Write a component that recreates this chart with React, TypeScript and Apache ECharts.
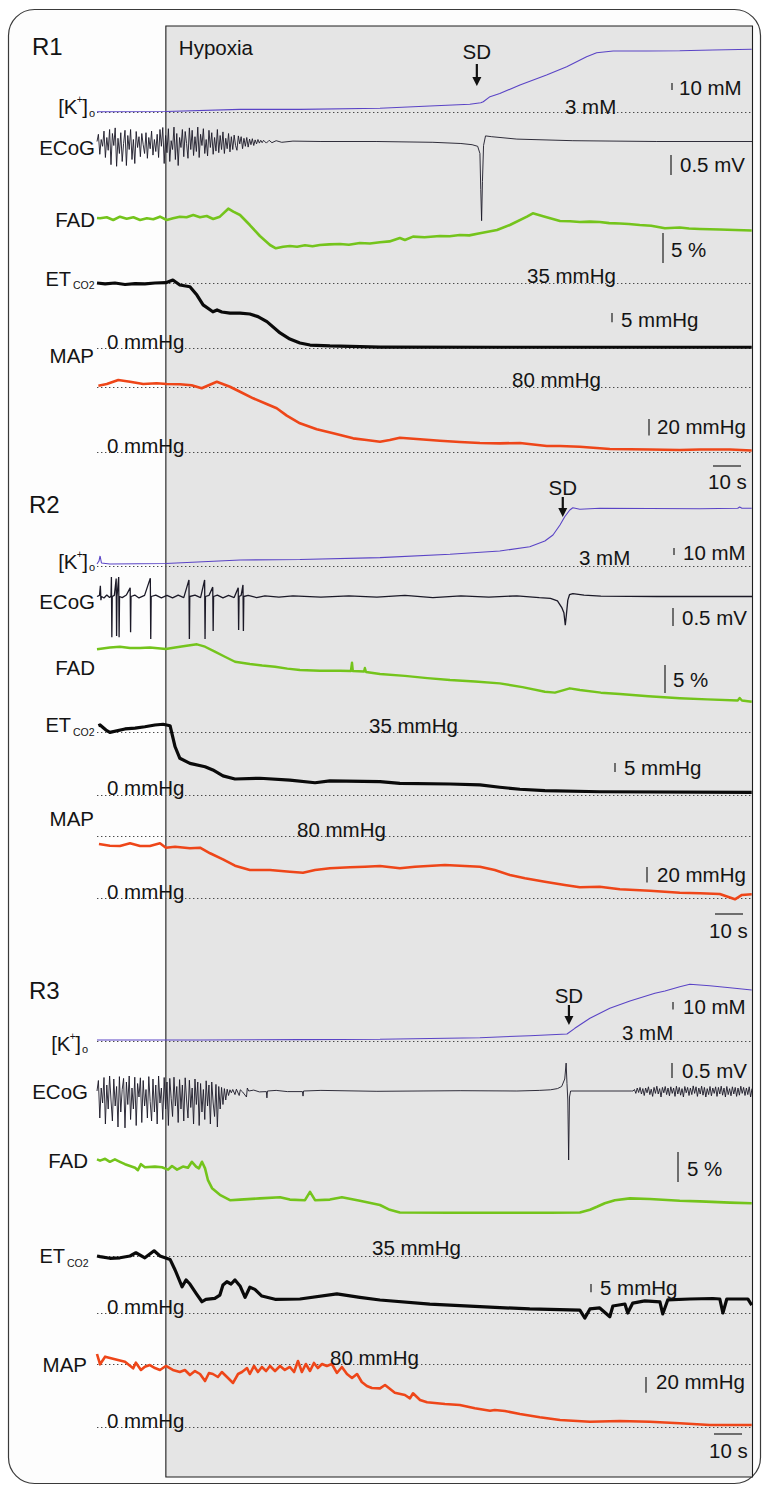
import React, { useEffect, useRef } from "react";
import * as echarts from "echarts";

// ---------------- data (time in s from trace start, values in trace units) ----------------
const T_MAX = 234;
const HYPOXIA_ONSET = 24.6;
const SD_MARK = [135.7, 166.4, 168.6];
const TIME_BAR_S = 10;

// ---- R1 ----
const K1 = [[0,4.1],[24.6,4.4],[51.1,7.4],[72.5,7.4],[101.1,9],[118.9,12.3],[133.2,14.7],[137.1,17],[138,18.4],[140.4,25.6],[143.9,30.1],[151.1,42.3],[160.6,56.6],[167.8,68.4],[174.9,82.7],[178.5,88.4],[184.4,90.9],[196.3,90.9],[208.2,91.3],[220,92.3],[233.9,93.3]];
const ECOG1_BURST = [0,0.18,-0.32,0.05,-0.12,0.26,-0.4,0.1,-0.22,0.3,
  -0.58,0.2,-0.1,0.34,-0.62,0.08,-0.3,0.22,-0.5,-0.05,
  0.28,-0.6,0.15,-0.2,0.3,-0.45,0.05,-0.55,0.25,-0.15,
  0.12,-0.38,0.2,-0.08,-0.3,0.22,-0.42,0.1,-0.18,0.26,
  -0.34,0.05,-0.25,0.18,-0.4,0.3,-0.12,0.35,-0.55,0.15,
  -0.28,0.32,-0.5,0.02,-0.2,0.36,-0.45,0.2,-0.6,0.1,
  -0.15,0.3,-0.38,0.25,-0.05,-0.42,0.34,-0.2,0.28,-0.35,
  0.12,-0.25,0.36,-0.4,0.18,-0.1,0.32,-0.3,0.05,-0.36,
  0.28,-0.15,0.22,-0.32,0.1,-0.24,0.3,-0.28,0.15,-0.2,
  0.24,-0.3,0.08,-0.18,0.2,-0.26,0.12,-0.2,0.16,-0.1,
  -0.22,0.14,-0.06,0.12,-0.18,0.08,-0.12,0.1,-0.14,0.06,
  -0.08,0.07,-0.1,0.04,-0.06,0.05,-0.04,0.03,-0.03];
const ECOG1_REST = [[59.5,0.03],[60.5,-0.04],[61.5,0.03],[62.5,-0.03],[64,0.02],[66,-0.02],[70,0.01],[80,0],[100,0],[120,-0.02],[130,-0.05],[134,-0.08],[136,-0.12],[136.8,-0.3],[137.1,-1.2],[137.4,-1.98],[137.7,-1.0],[138.1,-0.1],[138.8,0.14],[141,0.12],[150,0.06],[170,0.02],[200,0],[234,0]];
const FAD1 = [[0,0],[1.1,-0.05],[3.5,0.12],[5.8,-0.33],[8.2,0.22],[10.6,-0.12],[13,0.12],[15.4,-0.33],[17.8,-0.05],[20.1,-0.22],[22.5,0.22],[24.9,-0.33],[27.2,-0.05],[29.6,0.22],[32,0.12],[34.4,0.5],[36.8,0.12],[39.2,0.33],[41.5,-0.17],[43.9,0.22],[46.9,1.55],[48.7,1.05],[51.1,0.5],[54.6,-1.17],[58.2,-3],[61.8,-4.5],[63.9,-5.05],[66.5,-4.8],[68.9,-4.67],[71.5,-4.8],[74.3,-4.55],[77,-4.7],[79.6,-4.5],[83,-4.4],[86.8,-4.33],[90,-4.45],[93.9,-4.17],[97.5,-4.25],[101.1,-4.05],[104.5,-3.9],[108.2,-3.33],[110,-3.67],[112.9,-3.1],[117,-3.2],[122.5,-3],[126,-3.05],[129.6,-2.83],[133,-2.9],[136.8,-2.55],[142.9,-2],[147.5,-1.17],[153.6,0.22],[155.7,0.78],[160,0.22],[165.4,-0.5],[169,-0.55],[172.5,-0.67],[176,-0.6],[179.6,-0.67],[183,-0.85],[186.8,-0.92],[190,-1.0],[193.9,-1.17],[198,-1.3],[202.9,-1.72],[208.2,-1.58],[211.5,-1.75],[215.4,-1.83],[222.5,-1.92],[228,-2.0],[233.9,-2.08]];
const CO2_1 = [[0,35],[2.9,34.5],[6.4,35],[10,34.2],[13.6,34.7],[17.1,34.5],[20.7,35],[24.6,35.2],[27.1,36.6],[29.6,33.9],[33.2,33],[35.7,28.5],[37.9,23.2],[41.4,19.5],[42.9,20.5],[44.6,19.4],[47.5,18.8],[51.1,18.8],[54.6,18.3],[57.5,16.9],[60.7,14.2],[65.4,8.1],[68.9,4.8],[72.5,2.7],[76.1,1.6],[83.2,1.1],[101.1,0.5],[143.9,0.4],[233.9,0.4]];
const MAP1 = [[0.5,81.6],[3.5,83.6],[7.6,88.5],[11.8,86.4],[16.5,83.6],[21.3,84.5],[24.9,83.6],[29.6,83.3],[33.8,82.1],[37.4,78.4],[42.8,86.4],[47.5,80.3],[51.1,74.2],[55.8,66.2],[60.6,59.2],[64.2,54],[67.8,45],[72.5,35.7],[78.5,28.3],[84.4,23.4],[91.5,17.3],[96.3,15.3],[101.1,13.2],[104.6,15.3],[108.2,18.1],[115.4,16.1],[122.5,14.4],[129.6,12.8],[136.8,11.6],[143.9,11.2],[151.1,11.6],[160.7,7.9],[165.4,7.9],[172.5,7.1],[183.2,4.3],[197.5,3.7],[208.2,3.1],[215.4,3.7],[226.1,3.7],[233.9,2.4]];

// ---- R2 ----
const K2 = [[0,5.9],[0.7,10.1],[1.1,17.3],[1.6,7.3],[4.6,5.9],[24.6,6.6],[51.1,11.6],[72.5,12.3],[101.1,14.9],[126.1,19.7],[143.9,24.4],[154.6,30.6],[160,38.7],[162.9,47.3],[165.4,61.6],[167.1,73.4],[168.9,83],[170,86.3],[172.5,84],[179.6,85.4],[197.5,85.1],[215.4,84.7],[228.9,85.4],[229.6,87.3],[230.4,85.4],[233.9,85.4]];
const ECOG2 = [[0,0],[0.9,0.03],[1.2,0.3],[1.4,-0.1],[1.6,0],[2.5,-0.04],[3.5,0.04],[4.5,-0.03],[5,0.02],[5.15,0.54],[5.3,-1.13],[5.45,0],[6.2,0.03],[6.85,0.5],[7,-1.1],[7.15,0],[7.75,0.54],[7.9,-1.13],[8.05,0],[9,-0.03],[10.5,0.04],[11.85,0.24],[12,-0.99],[12.15,0],[13.5,0.04],[15,-0.04],[17,0.03],[19.05,0.51],[19.2,-1.18],[19.35,0],[21,0.04],[23,-0.04],[25,0.03],[27,-0.04],[29,0.04],[31,-0.03],[32.85,0.46],[33,-1.18],[33.15,0],[35,0.04],[37,-0.03],[38.45,0.46],[38.6,-1.18],[38.75,0],[40,0.03],[41.35,0.26],[41.5,-0.96],[41.65,0],[43,0.04],[45,-0.04],[47,0.03],[49,-0.03],[50.45,0.24],[50.6,-0.93],[50.75,0],[51.5,0.03],[52.15,0.32],[52.3,-0.96],[52.45,0],[54,0.03],[57,-0.03],[60,0.02],[65,-0.02],[70,0.02],[80,-0.02],[90,0.02],[100,-0.02],[110,0.03],[120,-0.03],[130,0.02],[140,-0.02],[150,0.02],[158,-0.03],[162,-0.05],[164.5,-0.12],[166,-0.3],[166.8,-0.45],[167.3,-0.8],[167.7,-0.5],[168.2,-0.1],[168.8,0.05],[170,0.08],[174,0.04],[180,0.01],[200,0],[234,0]];
const FAD2 = [[0,-0.05],[4.6,0.27],[8.2,0.41],[11.8,0.18],[15.4,0.18],[18.9,0.27],[24.6,0],[27.9,0.27],[31.4,0.54],[35.7,0.84],[38.6,0.41],[42.1,-0.48],[45.7,-1.38],[49.3,-2.27],[54.6,-2.68],[59,-2.95],[63.6,-3.16],[68,-3.5],[72.5,-3.75],[79.6,-3.88],[86.8,-3.88],[90.7,-3.93],[91.1,-2.45],[91.4,-3.93],[95.4,-4.02],[95.7,-3.39],[96.1,-4.11],[101.1,-4.46],[110,-4.8],[118,-5.2],[126.1,-5.54],[135,-5.8],[143.9,-6.13],[152,-6.8],[160,-7.63],[163.6,-7.8],[168.9,-7.02],[172.5,-7.32],[180,-7.8],[186.8,-8.04],[197,-8.45],[208.2,-8.8],[218,-9.0],[228.9,-9.2],[229.6,-8.75],[230.4,-9.2],[233.9,-9.41]];
const CO2_2 = [[0.5,38.5],[1.1,38.9],[3.2,36.1],[4.6,34.8],[10,36.7],[13.6,37.2],[17.1,37.9],[20.7,38.9],[23.6,39.3],[26.1,38.5],[27.9,26.8],[29.6,20.4],[33.2,17.6],[38.6,15.7],[41.4,13.9],[45,10.6],[49.3,8.9],[58.2,9.3],[68.9,8.3],[77.9,6.8],[83.2,7.8],[101.1,7.4],[108.2,6.5],[126.1,6.1],[136.8,5.6],[143.9,4.3],[151.1,3.2],[160,2.4],[179.6,1.8],[233.9,1.5]];
const MAP2 = [[0.7,69.7],[4.6,67.5],[8.2,67.1],[11.8,70.6],[15.4,67.1],[18.9,67.1],[22.5,70.6],[24.6,64.9],[27.9,66.2],[33.2,64.1],[36.8,64.9],[40.4,57.7],[45,49.9],[49.3,41.7],[54.6,36.1],[61.8,36.1],[68.9,33.9],[73.6,32.6],[77.9,36.1],[83.2,38.3],[90.4,39.6],[95.7,40.4],[101.1,41.3],[108.2,38.3],[113.6,40.4],[124.3,42.6],[136.8,40.4],[142.1,36.1],[147.5,29.7],[152.9,25.4],[160,21],[167.1,16.8],[172.5,13.8],[179.6,14.6],[186.8,11.2],[197.5,9.4],[208.2,6.8],[215.4,6.1],[222.5,5.2],[227.9,-1.7],[230.4,3.9],[233.9,4.8]];

// ---- R3 ----
const K3 = [[0,4.3],[36.8,4.3],[72.5,4.9],[101.1,5.3],[136.8,7.4],[154.6,10.1],[167.9,12.3],[170.7,19.9],[176.1,33.3],[183.2,46.6],[190.4,56.3],[199.3,66.6],[202.9,69.7],[208.2,75.4],[211.8,78.6],[218.9,76.7],[226.1,74.1],[233.9,71]];
const ECOG3_BURST = [0,0.35,-0.9,0.1,-0.4,0.45,-1.1,0.2,-0.6,0.5,
  -0.3,-1.0,0.4,-0.5,0.15,-1.2,0.48,-0.7,0.05,0.42,
  -1.23,0.3,-0.45,0.5,-0.95,0.1,-0.6,0.46,-1.15,0.25,
  -0.2,0.44,-1.05,0.35,-0.5,0.05,-0.9,0.48,-0.35,-1.0,
  0.4,-0.7,0.2,-1.1,0.5,-0.4,0.1,-0.95,0.45,-0.6,
  0.3,-1.15,0.42,-0.25,-0.85,0.46,-0.5,0.15,-1.05,0.38,
  -0.6,0.2,-1.0,0.44,-0.3,-0.9,0.36,-0.55,0.1,-1.1,
  0.4,-0.45,0.3,-1.15,0.25,-0.7,0.05,-0.95,0.34,-0.5,
  0.2,-1.1,0.3,-0.4,-0.85,0.22,-1.2,0.15,-0.6,0.12,
  -0.45,0.08,-0.3,0.06,-0.15,0.04,-0.06];
const ECOG3_MID = [[48.5,0.05],[49.3,-0.12],[49.8,0.06],[50.8,-0.15],[51.2,0.04],[52,-0.03],[53.4,-0.2],[53.7,0.1],[54.2,0],[56,0.03],[58,-0.03],[60.5,-0.02],[60.7,-0.23],[60.9,0],[64,0.02],[68,-0.02],[73.4,-0.02],[73.6,-0.17],[73.8,0],[80,0.02],[100,-0.01],[130,0.01],[150,0],[158,0.02],[162,0.04],[164.5,0.08],[166,0.15],[167.1,0.4],[167.6,0.93],[167.9,0.25],[168.2,-0.3],[168.5,-2.3],[168.8,-0.2],[169.2,0],[191,0]];
const ECOG3_LATE = [0,0.05,-0.08,0.1,-0.05,0.12,-0.1,0.08,-0.15,0.1,
  -0.06,0.14,-0.12,0.06,-0.18,0.12,-0.08,0.16,-0.1,0.08,
  -0.2,0.12,-0.06,0.15,-0.12,0.1,-0.16,0.14,-0.08,0.1,
  -0.18,0.16,-0.1,0.12,-0.14,0.08,-0.2,0.15,-0.06,0.12,
  -0.15,0.1,-0.12,0.17,-0.08,0.14,-0.18,0.1,-0.1,0.16,
  -0.14,0.12,-0.2,0.08,-0.12,0.15,-0.16,0.1,-0.08,0.14,
  -0.18,0.12,-0.1,0.16,-0.14,0.1,-0.2,0.15,-0.12,0.08,
  -0.16,0.14,-0.1,0.12,-0.18,0.1,-0.14,0.16,-0.08,0.12,
  -0.15,0.1,-0.12,0.14,-0.2,0.08];
const FAD3 = [[0,0.1],[1.1,-0.1],[2.9,0.2],[4.6,-0.3],[6.4,0.1],[8.2,-0.3],[10,-0.7],[11.8,-1],[13.6,-1.3],[14.6,-1.7],[15.7,-0.7],[17.1,-1.2],[20.7,-1.1],[23.2,-1.2],[25.4,-1.6],[26.8,-1],[28.6,-1.6],[30.7,-1.1],[32.5,-1.3],[33.9,-0.3],[35.4,-1.1],[36.4,-1.4],[37.5,-0.3],[38.6,-1.4],[39.6,-3.3],[41.1,-4.7],[43.9,-5.8],[47.5,-6.7],[51.1,-6.6],[58.2,-6.4],[65.4,-6.2],[68.9,-6.6],[74.3,-6.7],[76.1,-5.3],[77.9,-6.7],[83.2,-6.6],[87.5,-6.2],[93.9,-6.8],[101.1,-7.5],[104.6,-8.3],[108.2,-8.75],[126.1,-8.8],[143.9,-8.8],[161.8,-8.8],[172.5,-8.75],[176.1,-8.3],[178.6,-7.8],[181.4,-7.2],[185,-6.7],[190.4,-6.4],[197.5,-6.5],[208.2,-6.8],[215.4,-6.9],[226.1,-7.1],[233.9,-7.2]];
const CO2_3 = [[0,35],[1.1,34.6],[4.6,33.6],[8.2,33.9],[11.8,35],[13.9,37],[17.1,33.9],[20.4,38.2],[22.5,35],[26.1,32.9],[27.9,26.4],[30.4,16.1],[31.8,20.3],[33.2,17.8],[35.4,12.1],[37.5,6.9],[38.9,8.4],[42.1,9],[43.9,11],[45,17.2],[46.4,19.2],[47.9,17.8],[49.3,20.3],[51.1,16.6],[52.9,9.6],[54.6,15.8],[56.4,14.5],[58.9,10.4],[63.6,8.4],[72.5,8.6],[85.7,11.7],[93.9,9.6],[101.1,8],[118.9,5.5],[136.8,3.9],[154.6,2.5],[172.5,1.8],[174.3,-3.1],[176.1,2.5],[179.6,3.1],[183.2,-2.3],[184.3,4.3],[188.6,5.5],[189.6,0],[191.4,6.1],[195.7,7.4],[201.1,6.8],[202.1,-0.6],[203.9,8],[211.8,8.6],[220,8.9],[222.5,8.6],[223.6,0],[225,8.6],[232.5,8.6],[233.9,4.9]];
const MAP3 = [[0,92.7],[1.1,79.6],[2.9,89.3],[6.4,86],[10,82.9],[12.9,74.5],[13.9,81.7],[15.7,72.4],[17.1,76.6],[18.9,78.7],[20.7,74.9],[22.5,72.4],[24.6,77.5],[27.1,72.4],[29.6,69.8],[31.4,72.4],[33.2,66],[35,71.1],[36.8,67.3],[38.6,58.4],[40,68.6],[41.4,67.3],[43.2,63.5],[44.6,69.8],[46.8,62.2],[48.6,55.9],[50.4,67.3],[51.8,69.8],[53.6,74.9],[54.6,67.3],[56.1,77.5],[57.5,69.8],[58.9,76.2],[60.4,71.1],[61.8,77.5],[63.6,71.1],[65.4,77.5],[67.1,72.4],[68.9,76.2],[70.4,69.8],[71.8,83.8],[73.2,69.8],[74.6,80],[76.1,71.1],[77.5,81.3],[78.9,74.9],[80.4,80],[82.1,77.5],[83.9,80],[85.7,68.6],[87.5,76.2],[89.3,67.3],[91.1,62.2],[92.9,67.3],[94.6,57.1],[96.4,52.1],[98.2,49.5],[101.1,49.1],[102.9,53.3],[106.4,43.6],[110,40.6],[111.8,36.4],[112.9,42.8],[115.4,34.3],[117.9,31.4],[124.3,29.2],[129.6,27.9],[135,23.7],[140.4,20.7],[142.1,21.6],[145.7,20.3],[151.1,16.5],[158.2,12.3],[165.4,8.9],[176.1,6.7],[186.8,7.6],[197.5,6.7],[208.2,4.7],[218.9,2.5],[233.9,2.5]];

// ---------------- styling / layout ----------------
const FONT = "'Liberation Sans', Arial, Helvetica, sans-serif";
const INK = "#141414";
const C_K = "#5a44c6";
const C_E = "#1b1927";
const C_F = "#74c41c";
const C_C = "#0a0a0a";
const C_M = "#ee4619";
const PLOT_LEFT = 97;
const PLOT_RIGHT_PX = 752;

const ecog1 = [...ECOG1_BURST.map((v, i) => [i * 0.5, v]), ...ECOG1_REST];
const ecog3 = [...ECOG3_BURST.map((v, i) => [i * 0.5, v]), ...ECOG3_MID, ...ECOG3_LATE.map((v, i) => [191.5 + i * 0.5, v])];

// cal: [pixel y of base value, base value, px per unit]
const TRACES = [
  { data: K1, cal: [112.5, 3, 0.7], color: C_K, width: 1.1, refs: [3] },
  { data: ecog1, cal: [141.5, 0, 40], color: C_E, width: 0.9, refs: [] },
  { data: FAD1, cal: [218, 0, 6], color: C_F, width: 2.6, refs: [] },
  { data: CO2_1, cal: [348, 0, 65 / 35], color: C_C, width: 3.2, refs: [35, 0] },
  { data: MAP1, cal: [452.5, 0, 65.5 / 80], color: C_M, width: 2.6, refs: [80, 0] },
  { data: K2, cal: [566, 3, 0.7], color: C_K, width: 1.1, refs: [3] },
  { data: ECOG2, cal: [596.5, 0, 36], color: C_E, width: 1.3, refs: [] },
  { data: FAD2, cal: [649, 0, 5.6], color: C_F, width: 2.4, refs: [] },
  { data: CO2_2, cal: [795, 0, 1.8], color: C_C, width: 3.2, refs: [35, 0] },
  { data: MAP2, cal: [898, 0, 0.775], color: C_M, width: 2.6, refs: [80, 0] },
  { data: K3, cal: [1041, 3, 0.75], color: C_K, width: 1.1, refs: [3] },
  { data: ecog3, cal: [1091, 0, 30], color: C_E, width: 0.9, refs: [] },
  { data: FAD3, cal: [1160, 0, 6], color: C_F, width: 2.6, refs: [] },
  { data: CO2_3, cal: [1313, 0, 57 / 35], color: C_C, width: 3.2, refs: [35, 0] },
  { data: MAP3, cal: [1427, 0, 63 / 80], color: C_M, width: 2.6, refs: [80, 0] },
];

const SCALES = [
  { tr: 0, v: 10, label: "10 mM", x: 672, top: 83, tx: 679, ty: 87 },
  { tr: 1, v: 0.5, label: "0.5 mV", x: 671, top: 155, tx: 680, ty: 164 },
  { tr: 2, v: 5, label: "5 %", x: 663, top: 233, tx: 671, ty: 249 },
  { tr: 3, v: 5, label: "5 mmHg", x: 612, top: 313, tx: 621, ty: 319 },
  { tr: 4, v: 20, label: "20 mmHg", x: 649, top: 419, tx: 657, ty: 426 },
  { tr: 5, v: 10, label: "10 mM", x: 674, top: 548, tx: 683, ty: 552 },
  { tr: 6, v: 0.5, label: "0.5 mV", x: 673, top: 608, tx: 682, ty: 617 },
  { tr: 7, v: 5, label: "5 %", x: 665, top: 665, tx: 673, ty: 679 },
  { tr: 8, v: 5, label: "5 mmHg", x: 615, top: 763, tx: 624, ty: 767 },
  { tr: 9, v: 20, label: "20 mmHg", x: 647, top: 867, tx: 657, ty: 874 },
  { tr: 10, v: 10, label: "10 mM", x: 673, top: 1002, tx: 683, ty: 1006 },
  { tr: 11, v: 0.5, label: "0.5 mV", x: 672, top: 1063, tx: 682, ty: 1070 },
  { tr: 12, v: 5, label: "5 %", x: 678, top: 1152, tx: 687, ty: 1168 },
  { tr: 13, v: 5, label: "5 mmHg", x: 591, top: 1284, tx: 600, ty: 1287 },
  { tr: 14, v: 20, label: "20 mmHg", x: 646, top: 1377, tx: 656, ty: 1381 },
];

const PANELS = [
  { name: "R1", nx: 32, ny: 46, right: 95, kY: 106.5, ecogY: 147, fadY: 219, etRight: 71, etY: 278.5, mapY: 355.5,
    mm3: [565, 106.5], mm35: [527, 275], co2Zero: [107, 341], mm80: [512, 379], mapZero: [107, 445],
    sd: { ty: 51.5, top: 64, tip: 86 }, tb: { x: 713, y: 466, tx: 708, ty: 481 }, kTrace: 0 },
  { name: "R2", nx: 29, ny: 504, right: 95, kY: 561, ecogY: 601, fadY: 667, etRight: 71, etY: 725, mapY: 818,
    mm3: [579, 557], mm35: [369, 725], co2Zero: [107, 787], mm80: [297, 829], mapZero: [107, 891],
    sd: { ty: 487, top: 497, tip: 517 }, tb: { x: 715, y: 914, tx: 709, ty: 930 }, kTrace: 5 },
  { name: "R3", nx: 29, ny: 990, right: 88, kY: 1043, ecogY: 1091, fadY: 1160, etRight: 65, etY: 1256, mapY: 1364,
    mm3: [622, 1032], mm35: [372, 1247], co2Zero: [107, 1306], mm80: [330, 1357], mapZero: [107, 1420],
    sd: { ty: 995, top: 1005, tip: 1025 }, tb: { x: 714, y: 1434, tx: 709, ty: 1450 }, kTrace: 10 },
];

function buildOption() {
  const grid: any[] = [];
  const xAxis: any[] = [];
  const yAxis: any[] = [];
  const series: any[] = [];
  TRACES.forEach((tr, i) => {
    const [px, base, ppu] = tr.cal;
    grid.push({ left: PLOT_LEFT, width: PLOT_RIGHT_PX - PLOT_LEFT, top: px - 100, height: 100, show: false });
    xAxis.push({ type: "value", gridIndex: i, min: 0, max: T_MAX, show: false });
    yAxis.push({ type: "value", gridIndex: i, min: base, max: base + 100 / ppu, show: false });
    series.push({
      type: "line",
      xAxisIndex: i,
      yAxisIndex: i,
      data: tr.data,
      showSymbol: false,
      symbol: "none",
      clip: false,
      silent: true,
      z: 5,
      lineStyle: { color: tr.color, width: tr.width, join: tr.width > 2 ? "round" : "bevel" },
      markLine: tr.refs.length
        ? {
            silent: true,
            symbol: ["none", "none"],
            label: { show: false },
            z: 3,
            lineStyle: { type: [1.4, 2.6], color: "#4a4a4a", width: 1 },
            emphasis: { disabled: true },
            data: tr.refs.map((v) => ({ yAxis: v })),
          }
        : undefined,
    });
  });
  return { animation: false, backgroundColor: "transparent", grid, xAxis, yAxis, series };
}

function txt(str: string, x: number, y: number, size = 20.5, align = "left") {
  return {
    type: "text", x, y, z: 60, silent: true,
    style: { text: str, fill: INK, fontSize: size, fontFamily: FONT, textAlign: align, textVerticalAlign: "middle" },
  };
}
function vline(x: number, y1: number, y2: number, w = 1.2) {
  return { type: "line", z: 60, silent: true, shape: { x1: x, y1, x2: x, y2 }, style: { stroke: "#1e1e1e", lineWidth: w } };
}

function buildGraphics(chart: any) {
  const px = (xi: number, t: number) => chart.convertToPixel({ xAxisIndex: xi }, t) as number;
  const hx = px(0, HYPOXIA_ONSET);
  const els: any[] = [];
  els.push({ type: "rect", z: 0, silent: true, shape: { x: 8.5, y: 9.5, width: 752, height: 1474, r: 26 }, style: { fill: "#fdfdfd", stroke: "#3a3a3a", lineWidth: 1.2 } });
  els.push({ type: "rect", z: 1, silent: true, shape: { x: hx, y: 26, width: PLOT_RIGHT_PX + 0.5 - hx, height: 1451 }, style: { fill: "#e5e5e5", stroke: "#1e1e1e", lineWidth: 1.1 } });
  els.push(txt("Hypoxia", hx + 13, 47));

  PANELS.forEach((p, pi) => {
    els.push(txt(p.name, p.nx, p.ny, 24));
    els.push(txt("o", p.right, p.kY + 6, 11, "right"));
    els.push(txt("]", p.right - 7, p.kY, 20.5, "right"));
    els.push(txt("+", p.right - 12.5, p.kY - 7, 10, "right"));
    els.push(txt("[K", p.right - 17.5, p.kY, 20.5, "right"));
    els.push(txt("ECoG", p.right, p.ecogY, 20.5, "right"));
    els.push(txt("FAD", p.right, p.fadY, 20.5, "right"));
    els.push(txt("ET", p.etRight, p.etY, 20, "right"));
    els.push(txt("CO2", p.etRight + 2, p.etY + 6.5, 10.5, "left"));
    els.push(txt("MAP", p.right - 1, p.mapY, 20.5, "right"));
    els.push(txt("3 mM", p.mm3[0], p.mm3[1]));
    els.push(txt("35 mmHg", p.mm35[0], p.mm35[1]));
    els.push(txt("0 mmHg", p.co2Zero[0], p.co2Zero[1]));
    els.push(txt("80 mmHg", p.mm80[0], p.mm80[1]));
    els.push(txt("0 mmHg", p.mapZero[0], p.mapZero[1]));
    const ax = px(p.kTrace, SD_MARK[pi]);
    els.push(txt("SD", ax, p.sd.ty, 20.5, "center"));
    els.push({ type: "line", z: 60, silent: true, shape: { x1: ax, y1: p.sd.top, x2: ax, y2: p.sd.tip - 8 }, style: { stroke: "#111", lineWidth: 2.2 } });
    els.push({ type: "polygon", z: 60, silent: true, shape: { points: [[ax - 4.5, p.sd.tip - 9], [ax + 4.5, p.sd.tip - 9], [ax, p.sd.tip]] }, style: { fill: "#111" } });
    const len = px(0, TIME_BAR_S) - px(0, 0);
    els.push({ type: "line", z: 60, silent: true, shape: { x1: p.tb.x, y1: p.tb.y, x2: p.tb.x + len, y2: p.tb.y }, style: { stroke: "#1e1e1e", lineWidth: 1.2 } });
    els.push(txt("10 s", p.tb.tx, p.tb.ty));
  });

  SCALES.forEach((s) => {
    const ppu = TRACES[s.tr].cal[2];
    els.push(vline(s.x, s.top, s.top + s.v * ppu));
    els.push(txt(s.label, s.tx, s.ty));
  });
  return els;
}

export default function App() {
  const ref = useRef<HTMLDivElement>(null);
  useEffect(() => {
    const chart = echarts.init(ref.current as HTMLDivElement, null, { renderer: "svg" });
    chart.setOption(buildOption());
    chart.setOption({ graphic: { elements: buildGraphics(chart) } });
    return () => chart.dispose();
  }, []);
  return <div ref={ref} style={{ position: "absolute", left: 0, top: 0, width: 762, height: 1486, background: "#fff" }} />;
}
